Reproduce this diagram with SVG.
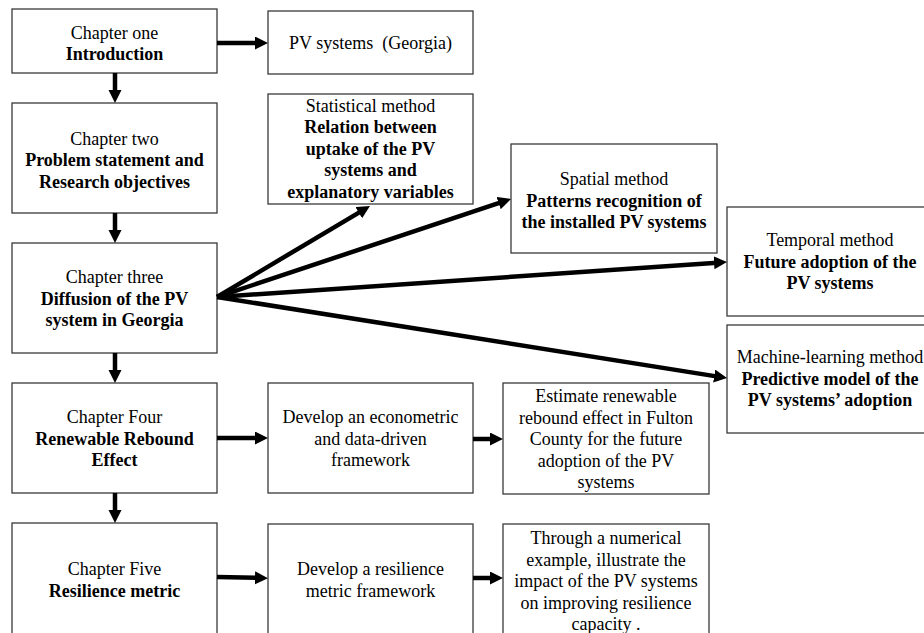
<svg xmlns="http://www.w3.org/2000/svg" width="924" height="633" viewBox="0 0 924 633">
<style>
  .box { fill: #ffffff; stroke: #3a3a3a; stroke-width: 1.3; }
  text { font-family: "Liberation Serif", "Times New Roman", serif; font-size: 18px; fill: #000; text-anchor: middle; }
  .b { font-weight: bold; }
  .conn line { stroke: #000; stroke-width: 4.5; fill: none; marker-end: url(#ah); }
</style>
<defs>
  <marker id="ah" markerUnits="userSpaceOnUse" markerWidth="14" markerHeight="14" refX="7" refY="6.5" orient="auto">
    <path d="M0,0 L13,6.5 L0,13 z" fill="#000"/>
  </marker>
</defs>
<rect x="0" y="0" width="924" height="633" fill="#ffffff"/>

<g id="ch1">
  <rect class="box" x="12" y="9" width="205" height="64"/>
  <text x="114.5" y="39">Chapter one</text>
  <text x="114.5" y="60" class="b">Introduction</text>
</g>
<g id="pv">
  <rect class="box" x="268" y="11" width="205" height="63"/>
  <text x="370.5" y="49" xml:space="preserve">PV systems  (Georgia)</text>
</g>
<g id="ch2">
  <rect class="box" x="12" y="103" width="205" height="110"/>
  <text x="114.5" y="144.5">Chapter two</text>
  <text x="114.5" y="166" class="b">Problem statement and</text>
  <text x="114.5" y="187.5" class="b">Research objectives</text>
</g>
<g id="statistical">
  <rect class="box" x="268" y="94" width="205" height="110"/>
  <text x="370.5" y="111.5">Statistical method</text>
  <text x="370.5" y="133" class="b">Relation between</text>
  <text x="370.5" y="154.5" class="b">uptake of the PV</text>
  <text x="370.5" y="176" class="b">systems and</text>
  <text x="370.5" y="197.5" class="b">explanatory variables</text>
</g>
<g id="spatial">
  <rect class="box" x="511" y="144" width="206" height="109"/>
  <text x="614" y="185">Spatial method</text>
  <text x="614" y="206.5" class="b">Patterns recognition of</text>
  <text x="614" y="228" class="b">the installed PV systems</text>
</g>
<g id="temporal">
  <rect class="box" x="727" y="207" width="206" height="109"/>
  <text x="830" y="246">Temporal method</text>
  <text x="830" y="267.5" class="b">Future adoption of the</text>
  <text x="830" y="289" class="b">PV systems</text>
</g>
<g id="ch3">
  <rect class="box" x="12" y="243" width="205" height="110"/>
  <text x="114.5" y="283">Chapter three</text>
  <text x="114.5" y="304.5" class="b">Diffusion of the PV</text>
  <text x="114.5" y="326" class="b">system in Georgia</text>
</g>
<g id="machine">
  <rect class="box" x="727" y="325" width="206" height="108"/>
  <text x="830" y="363">Machine-learning method</text>
  <text x="830" y="384.5" class="b">Predictive model of the</text>
  <text x="830" y="406" class="b">PV systems’ adoption</text>
</g>
<g id="ch4">
  <rect class="box" x="12" y="383" width="205" height="110"/>
  <text x="114.5" y="423">Chapter Four</text>
  <text x="114.5" y="444.5" class="b">Renewable Rebound</text>
  <text x="114.5" y="466" class="b">Effect</text>
</g>
<g id="econometric">
  <rect class="box" x="268" y="383" width="205" height="110"/>
  <text x="370.5" y="423">Develop an econometric</text>
  <text x="370.5" y="444.5">and data-driven</text>
  <text x="370.5" y="466">framework</text>
</g>
<g id="estimate">
  <rect class="box" x="503" y="383" width="206" height="111"/>
  <text x="606" y="402">Estimate renewable</text>
  <text x="606" y="423.5">rebound effect in Fulton</text>
  <text x="606" y="445">County for the future</text>
  <text x="606" y="466.5">adoption of the PV</text>
  <text x="606" y="488">systems</text>
</g>
<g id="ch5">
  <rect class="box" x="12" y="523" width="205" height="130"/>
  <text x="114.5" y="575">Chapter Five</text>
  <text x="114.5" y="596.5" class="b">Resilience metric</text>
</g>
<g id="resilience">
  <rect class="box" x="268" y="524" width="205" height="130"/>
  <text x="370.5" y="575">Develop a resilience</text>
  <text x="370.5" y="596.5">metric framework</text>
</g>
<g id="through">
  <rect class="box" x="503" y="524" width="206" height="130"/>
  <text x="606" y="544">Through a numerical</text>
  <text x="606" y="565.5">example, illustrate the</text>
  <text x="606" y="587">impact of the PV systems</text>
  <text x="606" y="608.5">on improving resilience</text>
  <text x="606" y="630">capacity .</text>
</g>

<g id="connectors" class="conn">
  <line x1="217" y1="43" x2="262" y2="43"/>
  <line x1="115" y1="73" x2="115" y2="97"/>
  <line x1="115" y1="213" x2="115" y2="237"/>
  <line x1="115" y1="353" x2="115" y2="377"/>
  <line x1="115" y1="493" x2="115" y2="517"/>
  <line x1="217" y1="297" x2="364.8" y2="209.1"/>
  <line x1="217" y1="297" x2="505.3" y2="200.9"/>
  <line x1="217" y1="297" x2="721" y2="262.4"/>
  <line x1="217" y1="297" x2="721.1" y2="377.1"/>
  <line x1="217" y1="438" x2="262" y2="438"/>
  <line x1="473" y1="439" x2="497" y2="439"/>
  <line x1="217" y1="577" x2="262" y2="578"/>
  <line x1="473" y1="578" x2="497" y2="578"/>
</g>
</svg>
